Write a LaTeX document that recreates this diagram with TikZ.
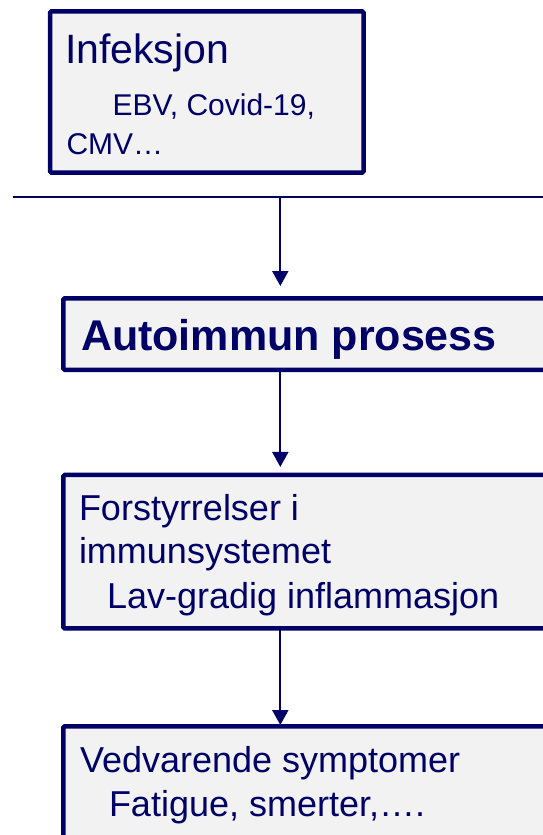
\documentclass[tikz,border=0pt]{standalone}
\usepackage{fontspec}
\setmainfont{Liberation Sans}
\usetikzlibrary{arrows.meta}
\definecolor{navy}{HTML}{000066}
\definecolor{boxfill}{HTML}{F2F2F2}
\begin{document}
\begin{tikzpicture}[x=1pt,y=-1pt,
  box/.style={draw=navy, fill=boxfill, line width=4.5pt, rounded corners=1.5pt, rectangle, inner sep=0pt, outer sep=0pt, anchor=north west},
  txt/.style={anchor=base west, inner sep=0pt, outer sep=0pt, text=navy, font=\fontsize{36}{43}\selectfont},
  arr/.style={draw=navy, line width=2pt, -{Triangle[width=16pt,length=15pt]}}]
\useasboundingbox (0,0) rectangle (543,835);
\clip (0,0) rectangle (543,835);
\fill[white] (0,0) rectangle (543,835);
\node[box, minimum width=313.5pt, minimum height=161.4pt] (b1) at (50,11.3) {};
\node[box, minimum width=520pt, minimum height=71.5pt] (b2) at (63.25,298.25) {};
\node[box, minimum width=520pt, minimum height=153.5pt] (b3) at (63.25,474.95) {};
\node[box, minimum width=520pt, minimum height=120pt] (b4) at (63.25,726.25) {};
\node[txt, font=\fontsize{41}{49}\selectfont] (t1) at (65,63.3) {Infeksjon};
\node[txt, font=\fontsize{30}{36}\selectfont] (t1b) at (112.6,115) {EBV, Covid-19,};
\node[txt, font=\fontsize{30}{36}\selectfont] (t1c) at (66.5,154) {CMV…};
\node[txt, font=\fontsize{43}{52}\selectfont\bfseries] (t2) at (81,350.7) {Autoimmun prosess};
\node[txt] (t3a) at (79,520) {Forstyrrelser i};
\node[txt] (t3b) at (79,563.5) {immunsystemet};
\node[txt] (t3c) at (107,608) {Lav-gradig inflammasjon};
\node[txt] (t4a) at (80,772.7) {Vedvarende symptomer};
\node[txt] (t4b) at (109,816.7) {Fatigue, smerter,….};
\coordinate (hl) at (12.7,196.7);
\coordinate (hr) at (560,196.7);
\coordinate (j) at (280.3,196.7);
\draw[navy, line width=1.8pt] (hl) -- (hr);
\draw[arr] (j) -- ([yshift=12.25pt]b2.north -| j);
\draw[arr] (b2.south -| j) -- ([yshift=8pt]b3.north -| j);
\draw[arr] (b3.south -| j) -- ([yshift=1.25pt]b4.north -| j);
\end{tikzpicture}
\end{document}
